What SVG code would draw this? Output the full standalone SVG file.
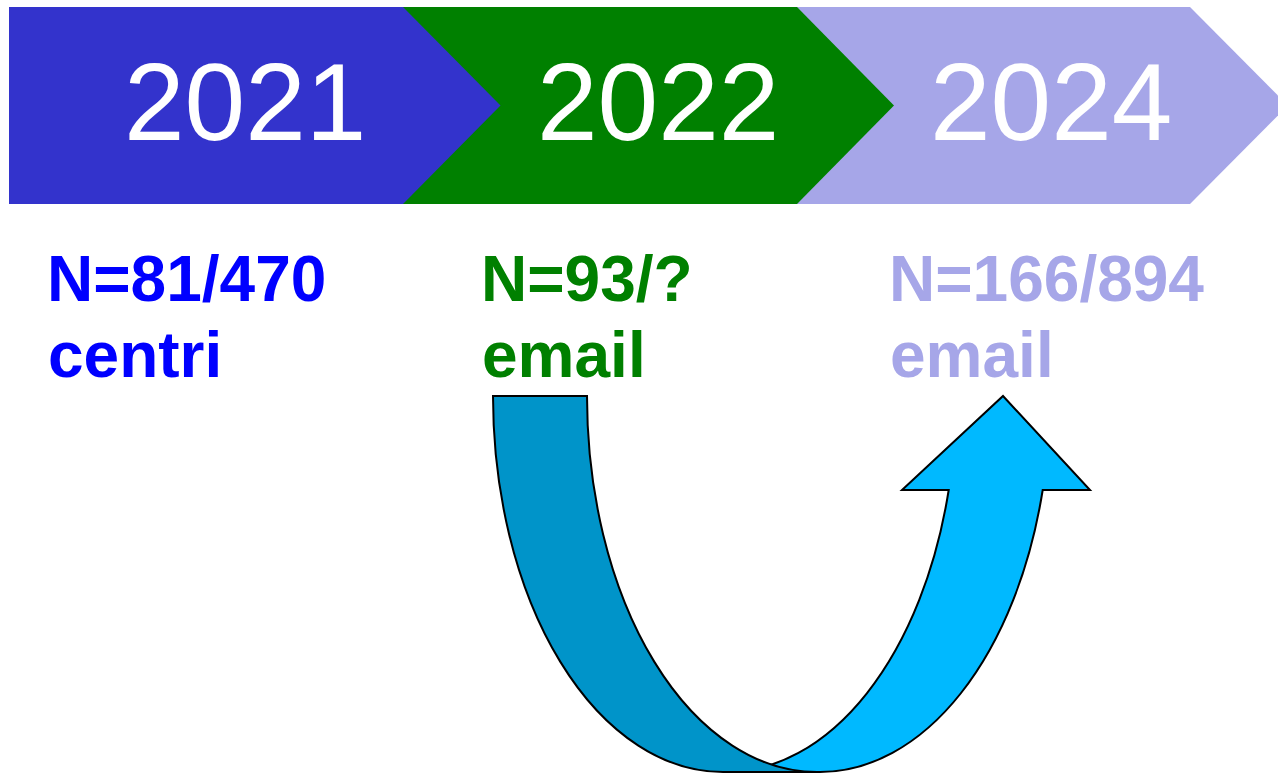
<svg xmlns="http://www.w3.org/2000/svg" width="1278" height="774" viewBox="0 0 1278 774">
<style>
.year{font-family:"Liberation Sans",Arial,sans-serif;font-size:109px;fill:#ffffff}
.lab{font-family:"Liberation Sans",Arial,sans-serif;font-size:64px;font-weight:bold}
.band{stroke:#000000;stroke-width:2;stroke-linejoin:miter}
</style>
<rect width="1278" height="774" fill="#ffffff"/>
<g id="chevron-2024">
<polygon points="797,7 1190,7 1288,105.5 1190,204 797,204" fill="#A6A6E8"/>
<text class="year" x="930" y="140">2024</text>
</g>
<g id="chevron-2022">
<polygon points="403,7 797,7 894,105.5 797,204 403,204" fill="#008000"/>
<text class="year" x="537" y="140">2022</text>
</g>
<g id="chevron-2021">
<polygon points="9,7 403,7 500.5,105.5 403,204 9,204" fill="#3333CC"/>
<text class="year" x="124" y="140">2021</text>
</g>
<g id="label-2021">
<text class="lab" fill="#0000FF" x="47" y="301">N=81/470</text>
<text class="lab" fill="#0000FF" x="48" y="377">centri</text>
</g>
<g id="label-2022">
<text class="lab" fill="#008000" x="481" y="301">N=93/?</text>
<text class="lab" fill="#008000" x="482" y="377">email</text>
</g>
<g id="label-2024">
<text class="lab" fill="#A6A6E8" x="889" y="301">N=166/894</text>
<text class="lab" fill="#A6A6E8" x="890" y="377">email</text>
</g>
<g id="connectors">
<path class="band" fill="#00B9FF" d="M726,772 A230,376 0 0 0 948.7,490 L902,490 L1003,396 L1090,490 L1042.7,490 A230,376 0 0 1 820,772 Z"/>
<path class="band" fill="#0094C9" d="M493,396 L587,396 A230,376 0 0 0 817,772 L723,772 A230,376 0 0 1 493,396 Z"/>
</g>
</svg>
